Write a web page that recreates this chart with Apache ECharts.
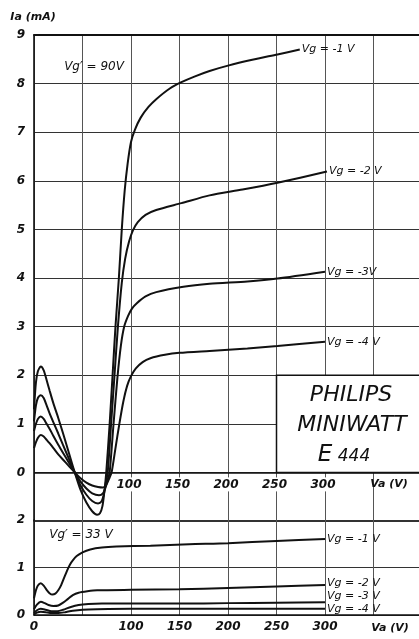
<!DOCTYPE html>
<html><head><meta charset="utf-8">
<script src="https://cdn.jsdelivr.net/npm/echarts@6/dist/echarts.min.js"></script>
<style>html,body{margin:0;padding:0;background:#fff}#c{width:419px;height:639px}</style>
</head><body><div id="c"></div>
<script>
// ---- data (Va in V, Ia in mA) ----
const upperNames = ['Vg = -1 V', 'Vg = -2 V', 'Vg = -3V', 'Vg = -4 V'];
const upperVg1 = [[0,1.3],[2,1.85],[4,2.08],[7,2.18],[10,2.1],[13,1.9],[16,1.69],[20,1.42],[25,1.12],[30,0.8],[36,0.4],[42,0],[48,-0.36],[54,-0.62],[60,-0.8],[65,-0.87],[68,-0.84],[70.5,-0.7],[72.5,-0.4],[74.5,0],[78,1.0],[81,2.0],[84,3.0],[87.5,4.0],[90.5,5.0],[93.5,5.8],[96.5,6.35],[100,6.8],[104,7.05],[110,7.3],[118,7.52],[126,7.68],[140,7.9],[152,8.03],[166,8.15],[181,8.26],[200,8.37],[225,8.49],[251,8.6],[274,8.7]];
const upperVg2 = [[0,1.05],[2,1.38],[4,1.53],[7,1.59],[10,1.53],[13,1.38],[16,1.22],[20,1.03],[25,0.8],[30,0.56],[36,0.28],[42,0],[48,-0.27],[54,-0.46],[60,-0.59],[66,-0.64],[69.5,-0.6],[72,-0.45],[74,-0.22],[76,0],[79.5,1.0],[83,2.0],[86.5,3.0],[90.5,3.9],[94,4.4],[98,4.75],[102,4.98],[107,5.15],[115,5.3],[126,5.4],[152,5.54],[181,5.7],[215,5.82],[251,5.96],[302,6.19]];
const upperVg3 = [[0,0.85],[2,1.0],[4,1.1],[7,1.15],[10,1.1],[13,1.0],[16,0.9],[20,0.75],[25,0.57],[30,0.4],[36,0.2],[42,0],[48,-0.19],[54,-0.33],[60,-0.43],[67,-0.47],[71,-0.43],[74,-0.3],[76,-0.15],[78,0],[82,1.0],[86,1.95],[89.5,2.6],[93,3.0],[97,3.22],[101,3.37],[106,3.48],[115,3.62],[126,3.71],[154,3.82],[181,3.88],[220,3.93],[251,3.99],[300,4.13]];
const upperVg4 = [[0,0.5],[2,0.62],[4,0.71],[7,0.77],[10,0.74],[13,0.67],[16,0.6],[20,0.5],[25,0.37],[30,0.26],[36,0.13],[42,0],[48,-0.12],[54,-0.21],[60,-0.27],[66,-0.3],[71,-0.31],[74,-0.27],[77,-0.15],[80,0],[84,0.5],[88,1.0],[92,1.45],[96,1.78],[100,1.98],[105,2.14],[112,2.27],[120,2.35],[135,2.42],[150,2.46],[181,2.5],[220,2.55],[251,2.6],[300,2.69]];

const lowerNames = ['Vg = -1 V', 'Vg = -2 V', 'Vg = -3 V', 'Vg = -4 V'];
const lowerVg1 = [[0,0.35],[2,0.52],[4,0.62],[7,0.67],[10,0.62],[13,0.53],[16,0.46],[19,0.43],[22,0.45],[25,0.52],[28,0.63],[31,0.78],[34,0.93],[37,1.06],[40,1.15],[44,1.24],[50,1.32],[58,1.38],[70,1.42],[85,1.44],[120,1.46],[160,1.49],[200,1.51],[250,1.56],[300,1.6]];
const lowerVg2 = [[0,0.12],[3,0.22],[7,0.28],[11,0.25],[15,0.21],[20,0.19],[25,0.2],[30,0.26],[35,0.34],[40,0.42],[46,0.47],[55,0.5],[65,0.52],[100,0.53],[150,0.54],[200,0.57],[250,0.6],[300,0.63]];
const lowerVg3 = [[0,0.04],[3,0.1],[7,0.13],[12,0.11],[18,0.08],[24,0.08],[30,0.11],[38,0.17],[46,0.21],[56,0.23],[70,0.24],[100,0.24],[150,0.24],[200,0.25],[250,0.26],[300,0.27]];
const lowerVg4 = [[0,0.01],[3,0.05],[7,0.07],[12,0.06],[18,0.04],[25,0.04],[32,0.06],[40,0.09],[50,0.11],[65,0.12],[100,0.13],[200,0.13],[300,0.13]];

const upperXTickLabels = [100, 150, 200, 250, 300];
const lowerXTickLabels = [0, 100, 150, 200, 250, 300];
const upperYTickLabels = [0, 1, 2, 3, 4, 5, 6, 7, 8, 9];
const lowerYTickLabels = [0, 1, 2];

// ---- styling ----
const FONT = 'DejaVu Sans';
const INK = '#111';
const tickFont = {fontFamily: FONT, fontStyle: 'italic', fontWeight: 'bold', fontSize: 12, color: INK};

const chart = echarts.init(document.getElementById('c'), null, {renderer: 'canvas'});

function curve(name, data, gi, dy) {
  return {
    type: 'line', name: name, data: data,
    xAxisIndex: gi === 0 ? 0 : 2, yAxisIndex: gi,
    showSymbol: false, symbol: 'none', smooth: 0.25,
    lineStyle: {color: INK, width: 2},
    itemStyle: {color: INK},
    endLabel: {show: true, formatter: name, distance: 2, offset: [0, dy || 0],
      fontFamily: FONT, fontStyle: 'italic', fontSize: 11, color: INK},
    z: 5
  };
}

const upperData = [upperVg1, upperVg2, upperVg3, upperVg4];
const lowerData = [lowerVg1, lowerVg2, lowerVg3, lowerVg4];
const lowerOffsets = [0, -2, -6, 0];
const series = [];
upperData.forEach((d, i) => series.push(curve(upperNames[i], d, 0, 0)));
lowerData.forEach((d, i) => series.push(curve(lowerNames[i], d, 1, lowerOffsets[i])));
// dark zero line of the upper panel
series[0].markLine = {silent: true, symbol: 'none', label: {show: false},
  lineStyle: {color: INK, width: 1.6, type: 'solid'}, data: [{yAxis: 0}]};

const option = {
  animation: false,
  backgroundColor: '#fff',
  grid: [
    {left: 34, top: 35, width: 388, height: 486, containLabel: false, outerBoundsMode: 'none'},
    {left: 34, top: 520, width: 388, height: 95, containLabel: false, outerBoundsMode: 'none'}
  ],
  xAxis: [
    {gridIndex: 0, type: 'value', min: 0, max: 400, interval: 50, position: 'bottom',
      axisLine: {show: false, onZero: false}, axisTick: {show: false}, axisLabel: {show: false},
      splitLine: {show: true, lineStyle: {color: '#555', width: 1}}},
    {gridIndex: 0, type: 'value', position: 'top', min: 0, max: 400,
      axisLine: {show: true, onZero: false, lineStyle: {color: INK, width: 1.8}},
      axisTick: {show: false}, axisLabel: {show: false}, splitLine: {show: false}},
    {gridIndex: 1, type: 'value', min: 0, max: 400, interval: 50,
      axisLine: {show: true, onZero: false, lineStyle: {color: INK, width: 1.6}},
      axisTick: {show: false},
      splitLine: {show: true, lineStyle: {color: '#555', width: 1}},
      axisLabel: Object.assign({}, tickFont, {margin: 6,
        formatter: v => lowerXTickLabels.includes(v) ? String(v) : ''})}
  ],
  yAxis: [
    {gridIndex: 0, type: 'value', min: -1, max: 9, interval: 1,
      axisLine: {show: true, onZero: false, lineStyle: {color: INK, width: 1.6}},
      axisTick: {show: false},
      splitLine: {show: true, lineStyle: {color: '#333', width: 1.2}},
      axisLabel: Object.assign({}, tickFont, {margin: 9,
        formatter: v => upperYTickLabels.includes(v) ? String(v) : ''})},
    {gridIndex: 1, type: 'value', min: 0, max: 2, interval: 1,
      axisLine: {show: true, onZero: false, lineStyle: {color: INK, width: 1.6}},
      axisTick: {show: false},
      splitLine: {show: true, lineStyle: {color: '#333', width: 1.2}},
      axisLabel: Object.assign({}, tickFont, {margin: 9,
        formatter: v => lowerYTickLabels.includes(v) ? String(v) : ''})}
  ],
  series: series
};
chart.setOption(option);

// decorations positioned from the axes
const px = (v, ia) => chart.convertToPixel({xAxisIndex: 0, yAxisIndex: 0}, [v, ia]);
const boxTL = px(250, 2);
const boxBR = px(400, 0);
const txt = (x, y, text, size, weight, extra) => ({
  type: 'text', x: x, y: y, z: 101,
  style: Object.assign({text: text, fontFamily: FONT, fontStyle: 'italic', fontWeight: weight || 'normal', fontSize: size, fill: INK,
    textAlign: 'center', textVerticalAlign: 'middle'}, extra || {})
});

const graphics = [
  {type: 'rect', z: 100,
    shape: {x: boxTL[0], y: boxTL[1], width: boxBR[0] - boxTL[0] + 10, height: boxBR[1] - boxTL[1]},
    style: {fill: '#fff', stroke: INK, lineWidth: 1.5}},
  txt(351, 395, 'PHILIPS', 22),
  txt(352, 425, 'MINIWATT', 22),
  txt(325, 455, 'E', 23),
  txt(354, 457, '444', 17),
  txt(33, 17, 'Ia (mA)', 11, 'bold'),
  txt(94, 67, 'Vg\u2032 = 90V', 12),
  txt(81, 535, 'Vg\u2032 = 33 V', 12),
  txt(389, 484, 'Va (V)', 11, 'bold'),
  txt(390, 628, 'Va (V)', 11, 'bold')
];
// tick labels of the upper panel, sitting just under its zero line
upperXTickLabels.forEach(v => {
  const p = px(v, 0);
  graphics.push(txt(p[0] - 2, p[1] + 12, String(v), 12, 'bold',
    {backgroundColor: '#fff', padding: [1, 1]}));
});
chart.setOption({graphic: graphics});
</script>
</body></html>
